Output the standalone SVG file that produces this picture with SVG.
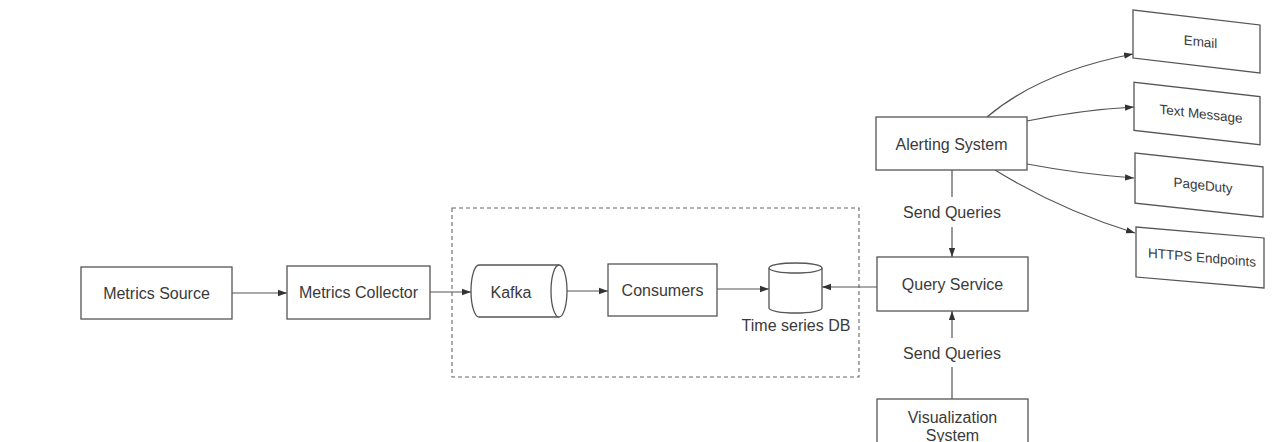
<svg xmlns="http://www.w3.org/2000/svg" width="1286" height="442" viewBox="0 0 1286 442">
<defs>
<marker id="ah" viewBox="0 0 10 10" refX="10" refY="5" markerWidth="9" markerHeight="9" markerUnits="userSpaceOnUse" orient="auto">
<path d="M0,1.5 L10,5 L0,8.5 z" fill="#333"/>
</marker>
<style>
.box{fill:#fff;stroke:#555;stroke-width:1.3}
.t{font-family:"Liberation Sans",Arial,sans-serif;font-size:16px;fill:#3a3a3a;text-anchor:middle;dominant-baseline:central}
.ts{font-family:"Liberation Sans",Arial,sans-serif;font-size:13.5px;fill:#3a3a3a;text-anchor:middle;dominant-baseline:central}
.c{fill:none;stroke:#555;stroke-width:1.2}
.ca{fill:none;stroke:#555;stroke-width:1.2;marker-end:url(#ah)}
</style>
</defs>
<rect width="1286" height="442" fill="#fff"/>

<g id="pipeline-boundary">
<rect x="452" y="208" width="407" height="169" fill="none" stroke="#666" stroke-width="1.1" stroke-dasharray="4,3"/>
</g>

<g id="connectors">
<line class="ca" x1="232" y1="293" x2="287" y2="293"/>
<line class="ca" x1="430" y1="292" x2="471" y2="292"/>
<line class="ca" x1="567" y1="291" x2="608" y2="291"/>
<line class="ca" x1="717" y1="289" x2="769" y2="289"/>
<line class="ca" x1="877" y1="287" x2="822" y2="287"/>
<line class="c" x1="952" y1="170" x2="952" y2="197"/>
<line class="ca" x1="952" y1="227" x2="952" y2="257"/>
<text class="t" x="952" y="212">Send Queries</text>
<line class="c" x1="952" y1="399" x2="952" y2="367"/>
<line class="ca" x1="952" y1="338" x2="952" y2="311"/>
<text class="t" x="952" y="353">Send Queries</text>
<path class="ca" d="M987,117 Q1040,72 1133,54"/>
<path class="ca" d="M1027,121 Q1080,110 1134,107"/>
<path class="ca" d="M1027,164 Q1080,174 1134,178"/>
<path class="ca" d="M995,170 Q1060,210 1135,233"/>
</g>

<g id="metrics-source">
<rect class="box" x="81" y="267" width="151" height="52"/>
<text class="t" x="156.5" y="293">Metrics Source</text>
</g>

<g id="metrics-collector">
<rect class="box" x="287" y="266" width="143" height="53"/>
<text class="t" x="358.5" y="292">Metrics Collector</text>
</g>

<g id="kafka">
<path class="box" d="M559,265 L479,265 A8,26 0 0 0 479,317 L559,317"/>
<ellipse class="box" cx="559" cy="291" rx="8" ry="26"/>
<text class="t" x="511" y="292">Kafka</text>
</g>

<g id="consumers">
<rect class="box" x="608" y="264" width="109" height="52"/>
<text class="t" x="662.5" y="290">Consumers</text>
</g>

<g id="time-series-db">
<path class="box" d="M769,268 L769,308 A26.5,5 0 0 0 822,308 L822,268"/>
<ellipse class="box" cx="795.5" cy="268" rx="26.5" ry="5"/>
<text class="t" x="796" y="325">Time series DB</text>
</g>

<g id="alerting-system">
<rect class="box" x="876" y="117" width="151" height="53"/>
<text class="t" x="951.5" y="144">Alerting System</text>
</g>

<g id="query-service">
<rect class="box" x="877" y="257" width="151" height="54"/>
<text class="t" x="952.5" y="284">Query Service</text>
</g>

<g id="visualization-system">
<rect class="box" x="877" y="399" width="151" height="60"/>
<text class="t" x="952.5" y="417">Visualization</text>
<text class="t" x="952.5" y="435">System</text>
</g>

<g id="email" transform="translate(1196.5,41.5) skewY(6.7)">
<rect class="box" x="-63.5" y="-24" width="127" height="48"/>
<text class="ts" x="4" y="0">Email</text>
</g>

<g id="text-message" transform="translate(1197,113.5) skewY(6.5)">
<rect class="box" x="-63" y="-24" width="126" height="48"/>
<text class="ts" x="4" y="0">Text Message</text>
</g>

<g id="pageduty" transform="translate(1199,185) skewY(6.2)">
<rect class="box" x="-64" y="-25" width="128" height="50"/>
<text class="ts" x="4" y="0">PageDuty</text>
</g>

<g id="https-endpoints" transform="translate(1200,257.5) skewY(4.9)">
<rect class="box" x="-64" y="-25" width="128" height="50"/>
<text class="ts" x="2" y="0">HTTPS Endpoints</text>
</g>
</svg>
